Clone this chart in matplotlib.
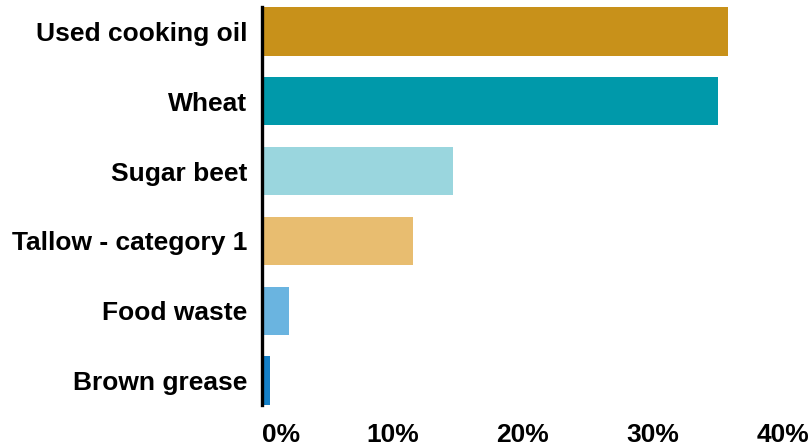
import matplotlib
matplotlib.use("Agg")
import matplotlib.pyplot as plt

categories = ["Used cooking oil", "Wheat", "Sugar beet", "Tallow - category 1",
              "Food waste", "Brown grease"]
values = [35.8, 35.0, 14.7, 11.6, 2.1, 0.6]
colors = ["#C8911A", "#0099AA", "#9AD6DE", "#E8BD70", "#6AB4E0", "#1480C8"]
ticks = [0, 10, 20, 30, 40]
tick_labels = ["0%", "10%", "20%", "30%", "40%"]

plt.rcParams['font.family'] = ['Liberation Sans', 'DejaVu Sans']

fig = plt.figure(figsize=(8.11, 4.48), dpi=100)
ax = fig.add_axes([262/811, 1 - 405/448, (783 - 262)/811, 398/448])

ax.barh(range(len(categories)), values, height=0.69, color=colors)

ax.set_xlim(0, 40)
ax.set_ylim(5.35, -0.35)
ax.set_yticks(range(len(categories)))
ax.set_yticklabels(categories, fontsize=19, fontweight='bold')
ax.set_xticks(ticks)
ax.set_xticklabels(tick_labels, fontsize=19, fontweight='bold')
ax.get_xticklabels()[0].set_horizontalalignment('left')
ax.tick_params(axis='both', length=0)
ax.tick_params(axis='x', pad=13)
ax.tick_params(axis='y', pad=10.5)

for s in ['top', 'right', 'bottom']:
    ax.spines[s].set_visible(False)
ax.spines['left'].set_linewidth(2.4)
ax.spines['left'].set_color('black')

fig.savefig("out.png", dpi=100)
